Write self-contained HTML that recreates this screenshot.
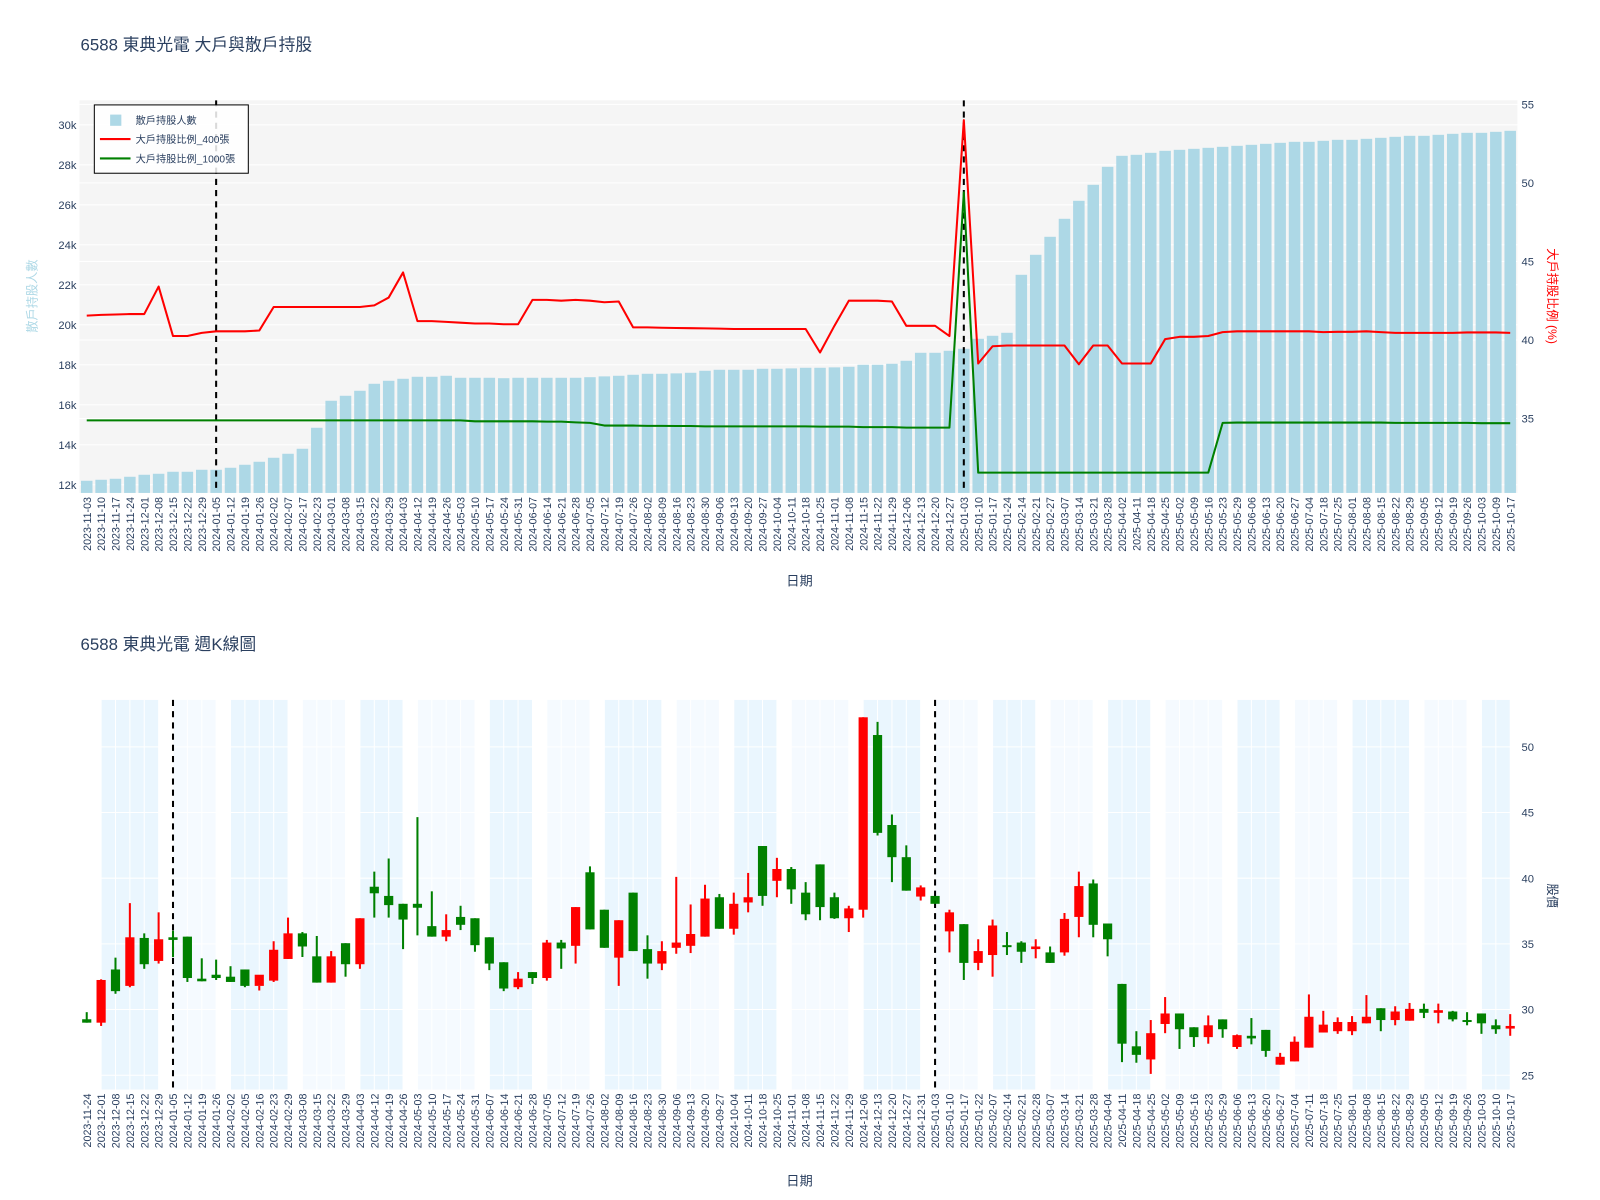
<!DOCTYPE html>
<html><head><meta charset="utf-8"><style>
html,body{margin:0;padding:0;background:#fff;}
svg{display:block;font-family:"Liberation Sans","Noto Sans CJK TC",sans-serif;}
</style></head><body>
<svg id="chart" width="1600" height="1200" viewBox="0 0 1569 1176" xmlns="http://www.w3.org/2000/svg">
<text x="79" y="49" font-size="16.5" fill="#2a3f5f">6588 東典光電 大戶與散戶持股</text>
<text x="79" y="637" font-size="16.5" fill="#2a3f5f">6588 東典光電 週K線圖</text>
<g id="top"></g>
<g id="bot"></g>
</svg>
<script>
const topDates=["2023-11-03","2023-11-10","2023-11-17","2023-11-24","2023-12-01","2023-12-08","2023-12-15","2023-12-22","2023-12-29","2024-01-05","2024-01-12","2024-01-19","2024-01-26","2024-02-02","2024-02-07","2024-02-17","2024-02-23","2024-03-01","2024-03-08","2024-03-15","2024-03-22","2024-03-29","2024-04-03","2024-04-12","2024-04-19","2024-04-26","2024-05-03","2024-05-10","2024-05-17","2024-05-24","2024-05-31","2024-06-07","2024-06-14","2024-06-21","2024-06-28","2024-07-05","2024-07-12","2024-07-19","2024-07-26","2024-08-02","2024-08-09","2024-08-16","2024-08-23","2024-08-30","2024-09-06","2024-09-13","2024-09-20","2024-09-27","2024-10-04","2024-10-11","2024-10-18","2024-10-25","2024-11-01","2024-11-08","2024-11-15","2024-11-22","2024-11-29","2024-12-06","2024-12-13","2024-12-20","2024-12-27","2025-01-03","2025-01-10","2025-01-17","2025-01-24","2025-02-14","2025-02-21","2025-02-27","2025-03-07","2025-03-14","2025-03-21","2025-03-28","2025-04-02","2025-04-11","2025-04-18","2025-04-25","2025-05-02","2025-05-09","2025-05-16","2025-05-23","2025-05-29","2025-06-06","2025-06-13","2025-06-20","2025-06-27","2025-07-04","2025-07-18","2025-07-25","2025-08-01","2025-08-08","2025-08-15","2025-08-22","2025-08-29","2025-09-05","2025-09-12","2025-09-19","2025-09-26","2025-10-03","2025-10-09","2025-10-17"];
const retail=[12.2,12.25,12.3,12.4,12.5,12.55,12.65,12.65,12.75,12.75,12.85,13.0,13.15,13.35,13.55,13.8,14.85,16.2,16.45,16.7,17.05,17.2,17.3,17.4,17.4,17.45,17.35,17.35,17.35,17.33,17.35,17.35,17.35,17.35,17.35,17.38,17.42,17.45,17.5,17.55,17.55,17.57,17.6,17.7,17.75,17.75,17.75,17.8,17.8,17.82,17.85,17.85,17.87,17.9,18.0,18.0,18.05,18.2,18.6,18.6,18.7,18.8,19.3,19.45,19.6,22.5,23.5,24.4,25.3,26.2,27.0,27.9,28.45,28.5,28.6,28.7,28.75,28.8,28.85,28.9,28.95,29.0,29.05,29.1,29.15,29.15,29.2,29.25,29.25,29.3,29.35,29.4,29.45,29.45,29.5,29.55,29.6,29.6,29.65,29.7];
const big400=[41.55,41.6,41.62,41.65,41.65,43.4,40.25,40.25,40.45,40.55,40.55,40.55,40.6,42.1,42.1,42.1,42.1,42.1,42.1,42.1,42.2,42.7,44.3,41.2,41.2,41.15,41.1,41.05,41.05,41.0,41.0,42.55,42.55,42.5,42.55,42.5,42.4,42.45,40.8,40.8,40.78,40.76,40.75,40.74,40.72,40.7,40.7,40.7,40.7,40.7,40.7,39.2,40.9,42.5,42.5,42.5,42.45,40.9,40.9,40.9,40.25,54.0,38.5,39.6,39.65,39.65,39.65,39.65,39.65,38.45,39.65,39.65,38.5,38.5,38.5,40.05,40.2,40.2,40.25,40.5,40.55,40.55,40.55,40.55,40.55,40.55,40.5,40.52,40.52,40.55,40.5,40.45,40.45,40.45,40.45,40.45,40.48,40.48,40.48,40.45];
const big1000=[34.88,34.88,34.88,34.88,34.88,34.88,34.88,34.88,34.88,34.88,34.88,34.88,34.88,34.88,34.88,34.88,34.88,34.88,34.88,34.88,34.88,34.88,34.88,34.88,34.88,34.88,34.88,34.82,34.82,34.82,34.82,34.82,34.8,34.8,34.75,34.72,34.55,34.55,34.55,34.53,34.53,34.52,34.52,34.5,34.5,34.5,34.5,34.5,34.5,34.5,34.5,34.48,34.48,34.48,34.45,34.45,34.45,34.42,34.42,34.42,34.42,49.4,31.55,31.55,31.55,31.55,31.55,31.55,31.55,31.55,31.55,31.55,31.55,31.55,31.55,31.55,31.55,31.55,31.55,34.72,34.74,34.74,34.74,34.74,34.74,34.74,34.74,34.74,34.74,34.74,34.74,34.72,34.72,34.72,34.72,34.72,34.72,34.7,34.7,34.7];
const leftTicks=[12,14,16,18,20,22,24,26,28,30];
const rightTicks=[35,40,45,50,55];
const topMarkDates=["2024-01-05","2025-01-03"];

const kDates=["2023-11-24","2023-12-01","2023-12-08","2023-12-15","2023-12-22","2023-12-29","2024-01-05","2024-01-12","2024-01-19","2024-01-26","2024-02-02","2024-02-05","2024-02-16","2024-02-23","2024-02-29","2024-03-08","2024-03-15","2024-03-22","2024-03-29","2024-04-03","2024-04-12","2024-04-19","2024-04-26","2024-05-03","2024-05-10","2024-05-17","2024-05-24","2024-05-31","2024-06-07","2024-06-14","2024-06-21","2024-06-28","2024-07-05","2024-07-12","2024-07-19","2024-07-26","2024-08-02","2024-08-09","2024-08-16","2024-08-23","2024-08-30","2024-09-06","2024-09-13","2024-09-20","2024-09-27","2024-10-04","2024-10-11","2024-10-18","2024-10-25","2024-11-01","2024-11-08","2024-11-15","2024-11-22","2024-11-29","2024-12-06","2024-12-13","2024-12-20","2024-12-27","2024-12-31","2025-01-03","2025-01-10","2025-01-17","2025-01-22","2025-02-07","2025-02-14","2025-02-21","2025-02-28","2025-03-07","2025-03-14","2025-03-21","2025-03-28","2025-04-04","2025-04-11","2025-04-18","2025-04-25","2025-05-02","2025-05-09","2025-05-16","2025-05-23","2025-05-29","2025-06-06","2025-06-13","2025-06-20","2025-06-27","2025-07-04","2025-07-11","2025-07-18","2025-07-25","2025-08-01","2025-08-08","2025-08-15","2025-08-22","2025-08-29","2025-09-05","2025-09-12","2025-09-19","2025-09-26","2025-10-03","2025-10-10","2025-10-17"];
const opens=[29.26,29.0,33.05,31.8,35.45,33.7,35.5,35.55,32.35,32.65,32.5,33.05,31.8,32.2,33.85,35.8,34.05,32.05,35.05,33.45,39.35,38.65,38.05,38.05,36.35,35.55,37.05,36.95,35.5,33.6,31.7,32.85,32.4,35.1,34.85,40.45,37.6,33.95,38.9,34.6,33.5,34.7,34.85,35.55,38.55,36.15,38.15,42.45,39.8,40.7,38.9,41.05,38.55,36.95,37.6,50.9,44.05,41.6,38.6,38.65,35.95,36.5,33.55,34.15,34.9,35.1,34.6,34.35,34.35,37.05,39.6,36.55,31.95,27.2,26.2,28.9,29.7,28.65,27.9,29.25,27.15,28.0,28.45,25.8,26.05,27.1,28.25,28.35,28.35,28.95,30.1,29.2,29.15,30.05,29.75,29.85,29.2,29.7,28.8,28.55];
const highs=[29.8,32.3,33.95,38.1,35.8,37.4,36.0,35.55,33.9,33.8,33.3,33.05,31.8,35.2,37.0,35.9,35.6,34.45,35.05,36.95,40.5,41.5,38.05,44.65,39.0,37.25,37.9,36.95,35.5,33.6,32.85,32.85,35.3,35.3,37.8,40.9,37.6,36.8,38.9,35.65,35.2,40.1,38.0,39.5,38.8,38.9,40.4,42.45,41.55,40.85,39.7,41.05,38.9,37.9,52.25,51.9,44.85,42.5,39.45,38.65,37.6,36.5,35.35,36.85,35.9,35.2,35.35,34.8,37.35,40.5,39.9,36.55,31.95,28.35,29.2,30.95,29.7,28.65,29.55,29.25,28.1,29.35,28.45,26.7,27.95,31.15,29.9,29.4,29.5,31.1,30.1,30.25,30.5,30.45,30.45,29.9,29.8,29.7,29.25,29.65];
const lows=[29.0,28.75,31.2,31.7,33.1,33.5,34.0,32.1,32.15,32.25,32.1,31.7,31.45,32.1,33.85,34.0,32.05,32.05,32.5,33.1,37.0,37.0,34.6,35.65,35.55,35.2,36.05,34.4,33.0,31.4,31.55,31.95,32.2,33.1,33.5,36.1,34.7,31.8,34.45,32.35,33.0,34.25,34.3,35.55,36.15,35.7,37.4,37.9,38.55,38.05,36.8,36.8,36.9,35.9,37.0,43.25,39.7,39.05,38.3,38.05,34.35,32.25,33.0,32.5,34.15,33.55,33.9,33.55,34.1,35.5,35.5,34.05,26.0,25.95,25.1,28.2,27.0,27.15,27.4,27.85,27.0,27.35,26.4,25.8,26.05,27.1,28.25,28.15,28.05,28.95,28.35,28.8,29.15,29.35,28.95,29.1,28.8,28.15,28.15,28.0];
const closes=[29.0,32.25,31.4,35.5,33.45,35.35,35.3,32.4,32.15,32.4,32.1,31.8,32.65,34.55,35.8,34.8,32.05,34.05,33.45,36.95,38.85,37.95,36.85,37.75,35.55,36.05,36.45,34.9,33.5,31.6,32.35,32.4,35.1,34.65,37.8,36.1,34.7,36.8,34.45,33.5,34.45,35.1,35.75,38.45,36.15,38.05,38.55,38.65,40.7,39.15,37.25,37.8,36.95,37.7,52.25,43.45,41.6,39.05,39.3,38.05,37.4,33.55,34.45,36.4,34.75,34.4,34.8,33.55,36.9,39.4,36.45,35.35,27.4,26.55,28.2,29.7,28.5,27.9,28.8,28.5,28.05,27.8,26.85,26.4,27.55,29.45,28.85,29.05,29.05,29.45,29.2,29.85,30.05,29.75,29.95,29.25,29.05,28.95,28.5,28.75];
const priceTicks=[25,30,35,40,45,50];
const botMarkDates=["2024-01-05","2025-01-03"];

const NS="http://www.w3.org/2000/svg";
function mk(parent,tag,attrs){const e=document.createElementNS(NS,tag);for(const k in attrs)e.setAttribute(k,attrs[k]);parent.appendChild(e);return e;}
const TX="#2a3f5f";

// ---------- TOP CHART ----------
const gT=document.getElementById('top');
const PL=78,PR=1488,TT=98,TB=483;
const bw=(PR-PL)/topDates.length;
const xT=i=>PL+(i+0.5)*bw;
const yL=v=>475-(v-12)*19.61;
const yR=v=>102+(55-v)*15.4;
let r=mk(gT,'rect',{x:PL,y:TT,width:PR-PL,height:TB-TT,fill:'#f5f5f5'});


rightTicks.forEach(v=>{const y=yR(v);if(y>TT&&y<TB){const l=mk(gT,'line',{x1:PL,x2:PR,y1:y,y2:y,stroke:'#fff','stroke-width':1});

}});
leftTicks.forEach(v=>{const y=yL(v);const l=mk(gT,'line',{x1:PL,x2:PR,y1:y,y2:y,stroke:'#fff','stroke-width':1});


const t=mk(gT,'text',{x:PL-3,y:y+4,'font-size':11,fill:TX,'text-anchor':'end'});t.textContent=v+'k';

});
rightTicks.forEach(v=>{const t=mk(gT,'text',{x:PR+4,y:yR(v)+4,'font-size':11,fill:TX});t.textContent=v;

});
retail.forEach((v,i)=>{const y=yL(v);const b=mk(gT,'rect',{x:xT(i)-bw*0.4,y:y,width:bw*0.8,height:TB-y,fill:'#add8e6'});

});
topMarkDates.forEach(d=>{const i=topDates.indexOf(d);const l=mk(gT,'line',{x1:xT(i),x2:xT(i),y1:TT,y2:TB,stroke:'#000','stroke-width':2,'stroke-dasharray':'6,5'});

});
function poly(arr,color,name){const pts=arr.map((v,i)=>xT(i)+','+yR(v)).join(' ');const p=mk(gT,'polyline',{points:pts,fill:'none',stroke:color,'stroke-width':2,'stroke-linejoin':'round'});

}
poly(big400,'#ff0000','big-holder-400-line');
poly(big1000,'#008000','big-holder-1000-line');
topDates.forEach((d,i)=>{const t=mk(gT,'text',{transform:`translate(${xT(i)+4},${TB+4}) rotate(-90)`,'font-size':10.5,fill:TX,'text-anchor':'end'});t.textContent=d;

});
let at=mk(gT,'text',{x:784,y:574,'font-size':13,fill:TX,'text-anchor':'middle'});at.textContent='日期';


at=mk(gT,'text',{transform:'translate(36,290) rotate(-90)','font-size':12,fill:'#add8e6','text-anchor':'middle'});at.textContent='散戶持股人數';


at=mk(gT,'text',{transform:'translate(1518,290) rotate(90)','font-size':12,fill:'#ff0000','text-anchor':'middle'});at.textContent='大戶持股比例 (%)';


// legend
const lg=mk(gT,'g',{});


mk(lg,'rect',{x:92.5,y:102.5,width:151,height:67,fill:'rgba(255,255,255,0.85)',stroke:'#000','stroke-width':1});
let e=mk(lg,'rect',{x:108,y:112,width:11,height:11,fill:'#add8e6'});


e=mk(lg,'line',{x1:98,x2:128,y1:136,y2:136,stroke:'#ff0000','stroke-width':2});


e=mk(lg,'line',{x1:98,x2:128,y1:155,y2:155,stroke:'#008000','stroke-width':2});


[['散戶持股人數',121],['大戶持股比例_400張',140],['大戶持股比例_1000張',159]].forEach(a=>{const t=mk(lg,'text',{x:133,y:a[1],'font-size':10,fill:TX});t.textContent=a[0];

});

// ---------- BOTTOM CHART ----------
const gB=document.getElementById('bot');
const BT=686,BB=1068;
const cw=(PR-PL)/kDates.length;
const xB=i=>PL+(i+0.5)*cw;
const yP=v=>732+(50-v)*12.88;
// month bands
let start=0;
for(let i=1;i<=kDates.length;i++){
  if(i===kDates.length||kDates[i].slice(0,7)!==kDates[start].slice(0,7)){
    const m=parseInt(kDates[start].slice(5,7));
    const x1=xB(start),x2=xB(i-1);
    if(x2>x1){const b=mk(gB,'rect',{x:x1,y:BT,width:x2-x1,height:BB-BT,fill:m%2===0?'#eaf6fe':'#f5faff'});
    
    }
    start=i;
  }
}
kDates.forEach((d,i)=>{const l=mk(gB,'line',{x1:xB(i),x2:xB(i),y1:BT,y2:BB,stroke:'#fff','stroke-width':1});

});
priceTicks.forEach(v=>{const y=yP(v);const l=mk(gB,'line',{x1:PL,x2:PR,y1:y,y2:y,stroke:'#fff','stroke-width':1});


const t=mk(gB,'text',{x:PR+4,y:y+4,'font-size':11,fill:TX});t.textContent=v;

});
botMarkDates.forEach(d=>{const i=kDates.indexOf(d);const l=mk(gB,'line',{x1:xB(i),x2:xB(i),y1:BT,y2:BB,stroke:'#000','stroke-width':2,'stroke-dasharray':'6,5'});

});
kDates.forEach((d,i)=>{
  const o=opens[i],c=closes[i],h=highs[i],l=lows[i];
  const col=c>=o?'#ff0000':'#008000';
  const g=mk(gB,'g',{});
  
  
  mk(g,'line',{x1:xB(i),x2:xB(i),y1:yP(h),y2:yP(l),stroke:col,'stroke-width':2});
  const yt=yP(Math.max(o,c)),yb=yP(Math.min(o,c));
  mk(g,'rect',{x:xB(i)-4.5,y:yt,width:9,height:Math.max(yb-yt,1.5),fill:col});
});
kDates.forEach((d,i)=>{const t=mk(gB,'text',{transform:`translate(${xB(i)+4},${BB+4}) rotate(-90)`,'font-size':10.5,fill:TX,'text-anchor':'end'});t.textContent=d;

});
at=mk(gB,'text',{x:784,y:1162,'font-size':13,fill:TX,'text-anchor':'middle'});at.textContent='日期';


at=mk(gB,'text',{transform:'translate(1518,878) rotate(90)','font-size':12,fill:TX,'text-anchor':'middle'});at.textContent='股價';


</script>
</body></html>
